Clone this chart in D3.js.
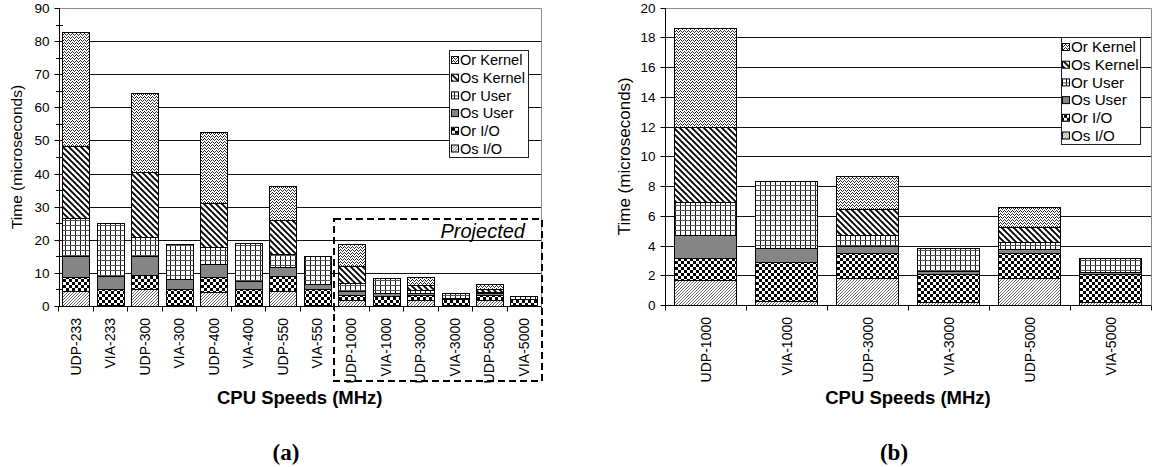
<!DOCTYPE html>
<html>
<head>
<meta charset="utf-8">
<script src="https://cdn.jsdelivr.net/npm/d3@7"></script>
<style>
  body { margin: 0; background: #fff; }
  svg { display: block; }
  text { font-family: "Liberation Sans", Arial, sans-serif; fill: #000; }
</style>
</head>
<body>
<svg id="fig" width="1154" height="467"></svg>
<script>
// ---- data -------------------------------------------------------------
const categoriesMeasured = ["UDP-233", "VIA-233", "UDP-300", "VIA-300", "UDP-400", "VIA-400", "UDP-550", "VIA-550"];
const categoriesProjected = ["UDP-1000", "VIA-1000", "UDP-3000", "VIA-3000", "UDP-5000", "VIA-5000"];

// stack order, bottom to top
const seriesKeys = ["Os I/O", "Or I/O", "Os User", "Or User", "Os Kernel", "Or Kernel"];

// measured CPUs (microseconds)
const osIOMeasured     = [4.4, 0.3, 5.2, 0.3, 4.3, 0.3, 4.5, 0.3];
const orIOMeasured     = [4.5, 4.8, 4.3, 4.9, 4.4, 4.8, 4.5, 4.9];
const osUserMeasured   = [6.1, 3.9, 5.6, 2.9, 3.9, 2.4, 2.9, 1.55];
const orUserMeasured   = [11.7, 16.0, 5.7, 10.65, 5.3, 11.55, 3.7, 8.25];
const osKernelMeasured = [21.7, 0, 19.6, 0, 13.1, 0, 10.3, 0];
const orKernelMeasured = [34.4, 0, 23.8, 0, 21.5, 0, 10.2, 0];

// projected CPUs (microseconds)
const osIOProjected     = [1.68, 0.27, 1.82, 0.18, 1.82, 0.18];
const orIOProjected     = [1.5, 2.6, 1.65, 1.89, 1.65, 1.92];
const osUserProjected   = [1.5, 0.96, 0.47, 0.24, 0.31, 0.12];
const orUserProjected   = [2.22, 4.48, 0.79, 1.52, 0.43, 0.92];
const osKernelProjected = [5.06, 0, 1.7, 0, 1.01, 0];
const orKernelProjected = [6.64, 0, 2.21, 0, 1.34, 0];

const yTicksA = [0, 10, 20, 30, 40, 50, 60, 70, 80, 90];
const yTicksB = [0, 2, 4, 6, 8, 10, 12, 14, 16, 18, 20];

// ---- table building ---------------------------------------------------
function buildRows(cats, cols) {
  return cats.map((c, i) => {
    const r = { cat: c };
    seriesKeys.forEach((k, j) => { r[k] = cols[j][i]; });
    return r;
  });
}
const measuredCols = [osIOMeasured, orIOMeasured, osUserMeasured, orUserMeasured, osKernelMeasured, orKernelMeasured];
const projectedCols = [osIOProjected, orIOProjected, osUserProjected, orUserProjected, osKernelProjected, orKernelProjected];
const rowsProjected = buildRows(categoriesProjected, projectedCols);
const rowsAll = buildRows(categoriesMeasured, measuredCols).concat(rowsProjected);

// ---- fill patterns ----------------------------------------------------
const svg = d3.select("#fig");
const defs = svg.append("defs");

function pattern(id, w, h, draw) {
  const p = defs.append("pattern").attr("id", id)
    .attr("patternUnits", "userSpaceOnUse").attr("width", w).attr("height", h);
  p.append("rect").attr("width", w).attr("height", h).attr("fill", "#fff");
  draw(p);
}
function pixels(p, cells, color) {
  cells.forEach(([cx, cy]) => p.append("rect").attr("x", cx).attr("y", cy)
    .attr("width", 1).attr("height", 1).attr("fill", color).attr("shape-rendering", "crispEdges"));
}
// Os I/O: fine up-diagonal grey hatch
pattern("p-osio", 3, 3, p => p.append("path")
  .attr("d", "M-1,1 L1,-1 M0,3 L3,0 M2,4 L4,2")
  .attr("stroke", "#5a5a5a").attr("stroke-width", 0.9));
// Or I/O: checkerboard
pattern("p-orio", 6, 6, p => {
  p.append("rect").attr("x", 0).attr("y", 0).attr("width", 3).attr("height", 3).attr("fill", "#000");
  p.append("rect").attr("x", 3).attr("y", 3).attr("width", 3).attr("height", 3).attr("fill", "#000");
});
// Os User: solid grey
pattern("p-osuser", 4, 4, p => p.select("rect").attr("fill", "#858585"));
// Or User: open grid
pattern("p-oruser", 5, 5, p => {
  p.append("rect").attr("x", 0).attr("y", 0).attr("width", 1).attr("height", 5).attr("fill", "#1a1a1a");
  p.append("rect").attr("x", 0).attr("y", 0).attr("width", 5).attr("height", 1).attr("fill", "#555");
});
// Os Kernel: wide down-diagonal stripes
pattern("p-oskernel", 6, 6, p => p.append("path")
  .attr("d", "M-1,-1 L7,7 M-4,2 L2,8 M4,-2 L10,4")
  .attr("stroke", "#000").attr("stroke-width", 1.9));
// Or Kernel: dense zigzag texture
pattern("p-orkernel", 4, 3, p => pixels(p, [[0, 0], [1, 1], [3, 1], [2, 2]], "#2a2a2a"));

const fills = {
  "Os I/O": "url(#p-osio)", "Or I/O": "url(#p-orio)", "Os User": "url(#p-osuser)",
  "Or User": "url(#p-oruser)", "Os Kernel": "url(#p-oskernel)", "Or Kernel": "url(#p-orkernel)"
};

// ---- one stacked-bar panel -------------------------------------------
function drawPanel(cfg) {
  const g = svg.append("g");
  const x = d3.scaleBand().domain(cfg.rows.map(d => d.cat))
    .range([cfg.x0, cfg.x1]).paddingInner(0.23).paddingOuter(0.115);
  const y = d3.scaleLinear().domain([0, cfg.max]).range([cfg.yB, cfg.yT]);

  // horizontal grid
  g.append("g").selectAll("line").data(cfg.ticks.filter(t => t > 0 && t < cfg.max)).join("line")
    .attr("x1", cfg.x0).attr("x2", cfg.x1)
    .attr("y1", d => Math.round(y(d)) + 0.5).attr("y2", d => Math.round(y(d)) + 0.5)
    .attr("stroke", "#111").attr("stroke-width", 1);

  // plot-area border (top and right)
  g.append("path")
    .attr("d", `M${cfg.x0},${Math.round(y(cfg.max)) + 0.5} H${Math.round(cfg.x1) + 0.5} V${cfg.yB}`)
    .attr("fill", "none").attr("stroke", "#8c8c8c");

  // stacked bars
  const stacked = d3.stack().keys(seriesKeys)(cfg.rows);
  g.append("g").selectAll("g").data(stacked).join("g")
    .attr("fill", d => fills[d.key])
    .selectAll("rect").data(d => d.filter(s => s[1] - s[0] > 0)).join("rect")
    .attr("x", d => Math.round(x(d.data.cat)) + 0.5)
    .attr("width", Math.round(x.bandwidth()))
    .attr("y", d => Math.round(y(d[1])) + 0.5)
    .attr("height", d => Math.max(0, Math.round(y(d[0])) - Math.round(y(d[1]))))
    .attr("stroke", "#000").attr("stroke-width", 1);

  // y axis
  const yAxis = g.append("g").attr("transform", `translate(${Math.round(cfg.x0) + 0.5},0)`)
    .call(d3.axisLeft(y).tickValues(cfg.ticks).tickSize(5).tickPadding(5).tickFormat(d3.format("d")));
  yAxis.select(".domain").attr("d", `M0,${Math.round(y(cfg.max))}V${Math.round(cfg.yB) + 0.5}`).attr("stroke", "#000");
  yAxis.selectAll(".tick line").attr("stroke", "#000");
  yAxis.selectAll(".tick").attr("transform", d => `translate(0,${Math.round(y(d)) + 0.5})`);
  yAxis.selectAll("text").style("font-size", "13.5px").style("font-family", "'Liberation Sans', Arial, sans-serif");
  if (cfg.minor) {
    g.append("g").selectAll("line").data(d3.range(cfg.minor, cfg.max, cfg.minor * 2)).join("line")
      .attr("x1", Math.round(cfg.x0) - 3).attr("x2", Math.round(cfg.x0) + 4)
      .attr("y1", d => Math.round(y(d)) + 0.5).attr("y2", d => Math.round(y(d)) + 0.5)
      .attr("stroke", "#000");
  }

  // x axis: ticks sit on the category boundaries
  const xb = Math.round(cfg.yB) + 0.5;
  g.append("line").attr("x1", cfg.x0).attr("x2", cfg.x1).attr("y1", xb).attr("y2", xb).attr("stroke", "#000");
  const bounds = cfg.rows.map(d => x(d.cat) - x.step() * 0.115).concat([cfg.x1]);
  g.append("g").selectAll("line").data(bounds).join("line")
    .attr("x1", d => Math.round(d) + 0.5).attr("x2", d => Math.round(d) + 0.5)
    .attr("y1", xb).attr("y2", xb + 5).attr("stroke", "#000");
  g.append("g").selectAll("text").data(cfg.rows).join("text")
    .attr("transform", d => `translate(${x(d.cat) + x.bandwidth() / 2},${cfg.yB + 12}) rotate(-90)`)
    .attr("text-anchor", "end").attr("dy", "0.36em")
    .style("font-size", "14px").text(d => d.cat);

  // axis titles
  g.append("text")
    .attr("transform", `translate(${cfg.titleX},${(cfg.yT + cfg.yB) / 2}) rotate(-90)`)
    .attr("text-anchor", "middle").attr("dy", "0.35em")
    .style("font-size", cfg.titleSize + "px").text("Time (microseconds)");
  g.append("text").attr("x", (cfg.x0 + cfg.x1) / 2).attr("y", 404)
    .attr("text-anchor", "middle").style("font-size", "18.5px").style("font-weight", "bold")
    .text("CPU Speeds (MHz)");

  // panel caption
  g.append("text").attr("x", cfg.capX).attr("y", 460).attr("text-anchor", "middle")
    .style("font-family", "'Liberation Serif', 'Times New Roman', serif")
    .style("font-size", "23px").style("font-weight", "bold").text(cfg.caption);

  // legend (top series first)
  const lg = g.append("g").attr("transform", `translate(${cfg.lx},${cfg.ly})`);
  lg.append("rect").attr("x", 0.5).attr("y", 0.5).attr("width", 79).attr("height", 107)
    .attr("fill", "#fff").attr("stroke", "#222");
  const items = seriesKeys.slice().reverse();
  const it = lg.selectAll("g.item").data(items).join("g").attr("class", "item")
    .attr("transform", (d, i) => `translate(0,${10 + i * 17.7})`);
  it.append("rect").attr("x", cfg.swX + 0.5).attr("y", -3.5).attr("width", 7).attr("height", 7)
    .attr("fill", d => fills[d]).attr("stroke", "#000");
  it.append("text").attr("x", cfg.txX).attr("y", 5.3)
    .style("font-size", cfg.legSize + "px").text(d => d);

  return { x, y, g };
}

// (a) all CPU speeds
const A = drawPanel({
  rows: rowsAll, x0: 58.5, x1: 541, yT: 8, yB: 306, max: 90, ticks: yTicksA, minor: 5,
  titleX: 17, titleSize: 15.5, capX: 286, caption: "(a)",
  lx: 449, ly: 50, swX: 2, txX: 11, legSize: 14.6
});

// dashed frame around the projected speeds
const firstProj = A.x(categoriesProjected[0]) - A.x.step() * 0.115;
A.g.append("rect")
  .attr("x", Math.round(firstProj)).attr("y", 219)
  .attr("width", 542 - Math.round(firstProj)).attr("height", 162)
  .attr("fill", "none").attr("stroke", "#000").attr("stroke-width", 2)
  .attr("stroke-dasharray", "7,4");
A.g.append("text").attr("x", 525).attr("y", 238).attr("text-anchor", "end")
  .style("font-size", "20px").style("font-style", "italic").text("Projected");

// (b) projected speeds only
drawPanel({
  rows: rowsProjected, x0: 665, x1: 1151, yT: 7.5, yB: 305, max: 20, ticks: yTicksB, minor: 0,
  titleX: 624, titleSize: 17, capX: 894, caption: "(b)",
  lx: 1061, ly: 37, swX: 1, txX: 10, legSize: 15.2
});
</script>
</body>
</html>
